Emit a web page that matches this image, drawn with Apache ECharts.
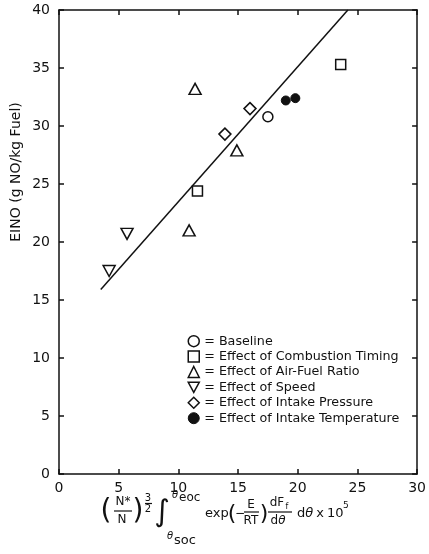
<!DOCTYPE html>
<html>
<head>
<meta charset="utf-8">
<script src="https://cdn.jsdelivr.net/npm/echarts@6/dist/echarts.min.js"></script>
<style>
  html, body { margin: 0; padding: 0; background: #fff; }
  #chart { width: 429px; height: 554px; }
</style>
</head>
<body>
<div id="chart"></div>
<script>
// EINO measurements grouped by the engine parameter that was varied
const baselineX = [17.5];
const baselineY = [30.8];
const timingX = [11.6, 23.6];
const timingY = [24.4, 35.3];
const airFuelX = [11.4, 14.9, 10.9];
const airFuelY = [33.2, 27.9, 21.0];
const speedX = [5.7, 4.2];
const speedY = [20.7, 17.5];
const pressureX = [16.0, 13.9];
const pressureY = [31.5, 29.3];
const temperatureX = [19.0, 19.8];
const temperatureY = [32.2, 32.4];

// least-squares correlation line (end points)
const fitX = [3.5, 24.2];
const fitY = [15.9, 40.0];

const seriesNames = [
  'Baseline',
  'Effect of Combustion Timing',
  'Effect of Air-Fuel Ratio',
  'Effect of Speed',
  'Effect of Intake Pressure',
  'Effect of Intake Temperature'
];

const xTicks = { min: 0, max: 30, step: 5 };
const yTicks = { min: 0, max: 40, step: 5 };

const FONT = 'DejaVu Sans';
const INK = '#111';
const DOWN_TRIANGLE = 'path://M0,0L12,0L6,11Z';

const pairs = (xs, ys) => xs.map((x, i) => [x, ys[i]]);

const hollow = { color: '#fff', borderColor: INK, borderWidth: 1.5, opacity: 1 };
const solid = { color: INK, borderColor: INK, borderWidth: 1, opacity: 1 };

const markers = [
  { data: pairs(baselineX, baselineY), symbol: 'circle', size: 10, style: hollow },
  { data: pairs(timingX, timingY), symbol: 'rect', size: 10, style: hollow },
  { data: pairs(airFuelX, airFuelY), symbol: 'triangle', size: [12, 11], style: hollow },
  { data: pairs(speedX, speedY), symbol: DOWN_TRIANGLE, size: [12, 11], style: hollow },
  { data: pairs(pressureX, pressureY), symbol: 'diamond', size: [12, 12], style: hollow },
  { data: pairs(temperatureX, temperatureY), symbol: 'circle', size: 9, style: solid }
];

const axisLine = { show: true, onZero: false, lineStyle: { color: INK, width: 1.5 } };
const axisTick = { show: true, inside: true, length: 5, lineStyle: { color: INK, width: 1.5 } };
const tickLabel = { fontFamily: FONT, fontSize: 14, color: INK };

function valueAxis(t, extra) {
  return Object.assign({
    type: 'value', min: t.min, max: t.max, interval: t.step,
    axisLine, axisTick, splitLine: { show: false }
  }, extra);
}

// helpers for the typeset axis title
function txt(x, y, s, size, style) {
  return {
    type: 'text', x, y, silent: true,
    style: Object.assign({
      text: s, fontFamily: FONT, fontSize: size, fill: INK,
      align: 'center', verticalAlign: 'middle'
    }, style || {})
  };
}
function bar(x1, x2, y) {
  return { type: 'line', silent: true, shape: { x1, y1: y, x2, y2: y }, style: { stroke: INK, lineWidth: 1.2 } };
}
const ital = { fontStyle: 'italic' };
const left = { align: 'left' };

const xTitle = [
  txt(106, 512, '(', 28),
  txt(123, 502, 'N*', 12),
  bar(114, 132, 511),
  txt(122, 520, 'N', 12),
  txt(138, 512, ')', 28),
  txt(148, 498, '3', 10),
  bar(145, 152, 503.5),
  txt(148, 509, '2', 10),
  txt(162, 513, '\u222B', 30),
  txt(172, 495, '\u03B8', 10, Object.assign({ align: 'left' }, ital)),
  txt(179, 498, 'eoc', 12, left),
  txt(167, 536, '\u03B8', 10, Object.assign({ align: 'left' }, ital)),
  txt(174, 541, 'soc', 13, left),
  txt(205, 514, 'exp', 13, left),
  txt(232, 514, '(', 22),
  txt(240, 514, '\u2212', 12),
  txt(251, 505, 'E', 12),
  bar(244, 259, 512),
  txt(251, 521, 'RT', 12),
  txt(264, 514, ')', 22),
  txt(277, 503, 'dF', 12),
  txt(287, 507, 'f', 8),
  bar(268, 292, 512),
  txt(278, 521, 'd{t|\u03B8}', 12, { rich: { t: { fontFamily: FONT, fontSize: 12, fontStyle: 'italic', fill: INK } } }),
  txt(297, 514, 'd{t|\u03B8}', 13, { align: 'left', rich: { t: { fontFamily: FONT, fontSize: 13, fontStyle: 'italic', fill: INK } } }),
  txt(320, 514, 'x', 13),
  txt(327, 514, '10', 13, left),
  txt(343, 506, '5', 9, left)
];

const chart = echarts.init(document.getElementById('chart'), null, { renderer: 'canvas' });

chart.setOption({
  backgroundColor: '#fff',
  animation: false,
  grid: { left: 59, right: 11, top: 10, bottom: 80 },
  xAxis: [
    valueAxis(xTicks, { position: 'bottom', axisLabel: Object.assign({ margin: 7 }, tickLabel) }),
    valueAxis(xTicks, { position: 'top', axisLabel: { show: false } })
  ],
  yAxis: [
    valueAxis(yTicks, { position: 'left', axisLabel: Object.assign({ margin: 9 }, tickLabel) }),
    valueAxis(yTicks, { position: 'right', axisLabel: { show: false } })
  ],
  legend: {
    orient: 'vertical',
    left: 187.5,
    top: 333.5,
    padding: 0,
    itemWidth: 11,
    itemHeight: 11,
    itemGap: 0,
    selectedMode: false,
    textStyle: { fontFamily: FONT, fontSize: 12.7, color: INK, lineHeight: 15.4 },
    formatter: name => '= ' + name,
    data: seriesNames.map((name, i) => ({
      name,
      icon: markers[i].symbol,
      itemStyle: markers[i].style
    }))
  },
  series: [
    {
      type: 'line',
      name: 'fit',
      data: pairs(fitX, fitY),
      showSymbol: false,
      lineStyle: { color: INK, width: 1.5 },
      z: 1,
      silent: true
    }
  ].concat(markers.map((m, i) => ({
    type: 'scatter',
    name: seriesNames[i],
    data: m.data,
    symbol: m.symbol,
    symbolSize: m.size,
    itemStyle: m.style,
    z: 3
  }))),
  graphic: [
    {
      type: 'text', x: 16, y: 172, rotation: Math.PI / 2, silent: true,
      style: {
        text: 'EINO (g NO/kg Fuel)', fontFamily: FONT, fontSize: 14, fill: INK,
        align: 'center', verticalAlign: 'middle'
      }
    }
  ].concat(xTitle)
});
</script>
</body>
</html>
